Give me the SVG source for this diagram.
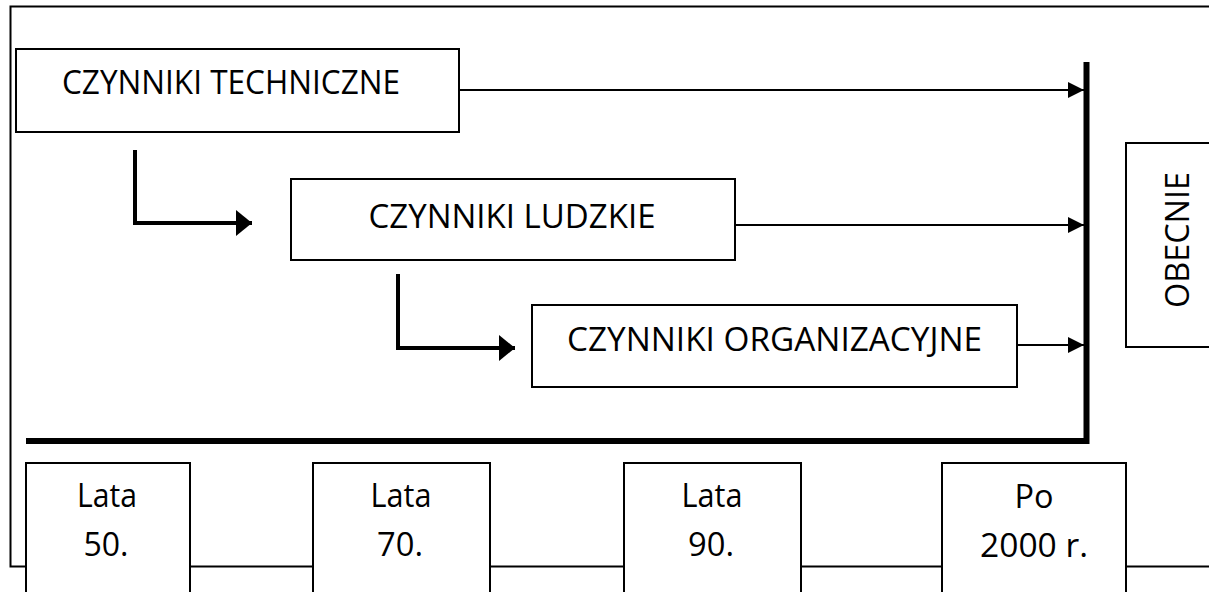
<svg xmlns="http://www.w3.org/2000/svg" width="1209" height="592" viewBox="0 0 1209 592">
<defs>
<style>
.box{fill:#fff;stroke:#000;stroke-width:2}
.t{font-family:"Open Sans","Noto Sans","Liberation Sans",sans-serif;font-size:33px;fill:#000;text-anchor:middle}
.thin{fill:none;stroke:#000;stroke-width:2}
.bent{fill:none;stroke:#000;stroke-width:4}
.thick{fill:none;stroke:#000;stroke-width:6}
</style>
<marker id="ah" viewBox="0 0 16 16" refX="16" refY="8" markerWidth="16" markerHeight="16" markerUnits="userSpaceOnUse" orient="auto">
<path d="M0,0 L16,8 L0,16 Z" fill="#000"/>
</marker>
<marker id="ahb" viewBox="0 0 16 26" refX="16" refY="13" markerWidth="16" markerHeight="26" markerUnits="userSpaceOnUse" orient="auto">
<path d="M0,0 L16,13 L0,26 Z" fill="#000"/>
</marker>
</defs>
<rect width="1209" height="592" fill="#fff"/>
<g id="frame">
<path class="thin" d="M1215,6.5 H10.5 V566.5 H1215"/>
</g>
<g id="connectors">
<path class="thin" d="M459,90 H1084" marker-end="url(#ah)"/>
<path class="thin" d="M735,225 H1084" marker-end="url(#ah)"/>
<path class="thin" d="M1017,345 H1084" marker-end="url(#ah)"/>
<path class="bent" d="M135,150 V223 H252" marker-end="url(#ahb)"/>
<path class="bent" d="M398,274 V348 H515" marker-end="url(#ahb)"/>
<path class="thick" d="M1086.5,62 V444"/>
<path class="thick" d="M26,441 H1089"/>
</g>
<g id="node-techniczne">
<rect class="box" x="16" y="49" width="443" height="83"/>
<text class="t" x="231" y="94" textLength="338" lengthAdjust="spacingAndGlyphs">CZYNNIKI TECHNICZNE</text>
</g>
<g id="node-ludzkie">
<rect class="box" x="291" y="179" width="444" height="81"/>
<text class="t" x="512" y="228" textLength="287" lengthAdjust="spacingAndGlyphs">CZYNNIKI LUDZKIE</text>
</g>
<g id="node-organizacyjne">
<rect class="box" x="532" y="305" width="485" height="82"/>
<text class="t" x="774.5" y="350.5" textLength="415" lengthAdjust="spacingAndGlyphs">CZYNNIKI ORGANIZACYJNE</text>
</g>
<g id="node-obecnie">
<rect class="box" x="1126" y="143" width="100" height="204"/>
<text class="t" transform="translate(1189,240) rotate(-90)" x="0" y="0" textLength="136" lengthAdjust="spacingAndGlyphs">OBECNIE</text>
</g>
<g id="node-lata50">
<rect class="box" x="26" y="463" width="164" height="140"/>
<text class="t" x="107" y="507" textLength="60" lengthAdjust="spacingAndGlyphs">Lata</text>
<text class="t" x="106" y="556" textLength="45" lengthAdjust="spacingAndGlyphs">50.</text>
</g>
<g id="node-lata70">
<rect class="box" x="313" y="463" width="177" height="140"/>
<text class="t" x="401" y="507" textLength="61" lengthAdjust="spacingAndGlyphs">Lata</text>
<text class="t" x="400" y="556" textLength="46" lengthAdjust="spacingAndGlyphs">70.</text>
</g>
<g id="node-lata90">
<rect class="box" x="624" y="463" width="177" height="140"/>
<text class="t" x="712" y="507" textLength="61" lengthAdjust="spacingAndGlyphs">Lata</text>
<text class="t" x="711" y="556" textLength="46" lengthAdjust="spacingAndGlyphs">90.</text>
</g>
<g id="node-po2000">
<rect class="box" x="942" y="463" width="184" height="140"/>
<text class="t" x="1034" y="508" textLength="39" lengthAdjust="spacingAndGlyphs">Po</text>
<text class="t" x="1034" y="557" textLength="108" lengthAdjust="spacingAndGlyphs">2000 r.</text>
</g>
</svg>
